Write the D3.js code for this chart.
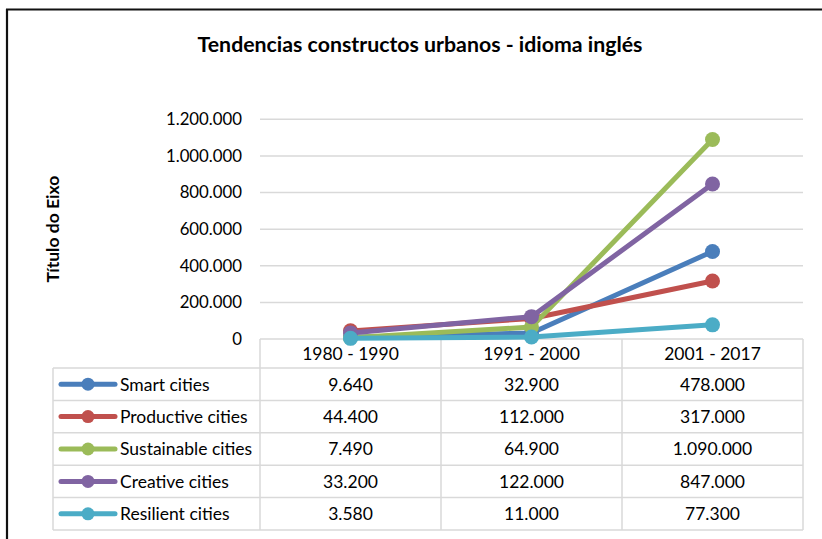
<!DOCTYPE html>
<html>
<head>
<meta charset="utf-8">
<script src="https://cdn.jsdelivr.net/npm/d3@7"></script>
<style>
  body { margin: 0; background: #fff; }
  svg text { font-family: Lato, "Open Sans", sans-serif; fill: #000; }
</style>
</head>
<body>
<svg id="chart" width="822" height="539"></svg>
<script>
const periods = ['1980 - 1990', '1991 - 2000', '2001 - 2017'];
const seriesNames = ['Smart cities', 'Productive cities', 'Sustainable cities', 'Creative cities', 'Resilient cities'];
const seriesColors = ['#4A7EBB', '#C0504D', '#9BBB59', '#8064A2', '#4BACC6'];
const smartValues = [9640, 32900, 478000];
const productiveValues = [44400, 112000, 317000];
const sustainableValues = [7490, 64900, 1090000];
const creativeValues = [33200, 122000, 847000];
const resilientValues = [3580, 11000, 77300];
const yTicks = [0, 200000, 400000, 600000, 800000, 1000000, 1200000];

const seriesValues = [smartValues, productiveValues, sustainableValues, creativeValues, resilientValues];
const series = seriesNames.map((name, i) => ({ name, color: seriesColors[i], values: seriesValues[i] }));

// numbers with dots as thousands separator
const fmt = d3.formatLocale({ decimal: ',', thousands: '.', grouping: [3], currency: ['', ''] }).format(',d');

const svg = d3.select('#chart');
const plotLeft = 260, plotRight = 803, plotTop = 119.3, plotBottom = 339;
const tableLeft = 53, headerH = 29, rowH = 32.4;
const gridColor = '#D9D9D9';
const fs = '17.5px';

// chart frame
svg.append('line').attr('x1', 6).attr('x2', 822).attr('y1', 9.5).attr('y2', 9.5)
  .attr('stroke', '#111').attr('stroke-width', 2.2);
svg.append('line').attr('x1', 7).attr('x2', 7).attr('y1', 9).attr('y2', 539)
  .attr('stroke', '#111').attr('stroke-width', 2.2);

svg.append('text')
  .attr('x', 420).attr('y', 52)
  .attr('text-anchor', 'middle')
  .style('font-size', '21.3px').style('font-weight', 'bold')
  .text('Tendencias constructos urbanos - idioma inglés');

const x = d3.scaleBand().domain(periods).range([plotLeft, plotRight]);
const y = d3.scaleLinear().domain([0, 1200000]).range([plotBottom, plotTop]);

// gridlines
svg.append('g').selectAll('line').data(yTicks.slice(1)).join('line')
  .attr('x1', plotLeft).attr('x2', plotRight)
  .attr('y1', d => y(d)).attr('y2', d => y(d))
  .attr('stroke', gridColor).attr('stroke-width', 1.5);

// y axis
const yAxis = svg.append('g')
  .attr('transform', `translate(${plotLeft - 18},0)`)
  .call(d3.axisLeft(y).tickValues(yTicks).tickFormat(fmt).tickSize(0).tickPadding(0));
yAxis.select('.domain').remove();
yAxis.selectAll('text').style('font-size', '16.8px').style('font-family', 'Lato, sans-serif');

svg.append('text')
  .attr('transform', `translate(59,${(plotTop + plotBottom) / 2}) rotate(-90)`)
  .attr('text-anchor', 'middle')
  .style('font-size', '17.5px').style('font-weight', 'bold')
  .text('Título do Eixo');

// data table
const tableBottom = plotBottom + headerH + rowH * series.length;
const tbl = svg.append('g').attr('stroke', gridColor).attr('stroke-width', 1.5);
tbl.append('line').attr('x1', plotLeft).attr('x2', plotRight).attr('y1', plotBottom).attr('y2', plotBottom);
series.forEach((s, i) => {
  const yy = plotBottom + headerH + rowH * i;
  tbl.append('line').attr('x1', tableLeft).attr('x2', plotRight).attr('y1', yy).attr('y2', yy);
});
tbl.append('line').attr('x1', tableLeft).attr('x2', plotRight).attr('y1', tableBottom).attr('y2', tableBottom);
tbl.append('line').attr('x1', tableLeft).attr('x2', tableLeft).attr('y1', plotBottom + headerH).attr('y2', tableBottom);
periods.forEach(p => {
  tbl.append('line').attr('x1', x(p)).attr('x2', x(p)).attr('y1', plotBottom).attr('y2', tableBottom);
});
tbl.append('line').attr('x1', plotRight).attr('x2', plotRight).attr('y1', plotBottom).attr('y2', tableBottom);

svg.append('g').selectAll('text').data(periods).join('text')
  .attr('x', d => x(d) + x.bandwidth() / 2)
  .attr('y', plotBottom + headerH / 2 + 6.5)
  .attr('text-anchor', 'middle')
  .style('font-size', fs)
  .text(d => d);

const rows = svg.append('g').selectAll('g').data(series).join('g')
  .attr('transform', (d, i) => `translate(0,${plotBottom + headerH + rowH * i})`);

rows.append('line')
  .attr('x1', 61).attr('x2', 115).attr('y1', rowH / 2).attr('y2', rowH / 2)
  .attr('stroke', d => d.color).attr('stroke-width', 5).attr('stroke-linecap', 'round');
rows.append('circle')
  .attr('cx', 88).attr('cy', rowH / 2).attr('r', 6.5)
  .attr('fill', d => d.color);
rows.append('text')
  .attr('x', 120).attr('y', rowH / 2 + 6.5)
  .style('font-size', fs)
  .text(d => d.name);
rows.selectAll('text.val').data(d => d.values).join('text')
  .attr('class', 'val')
  .attr('x', (d, i) => x(periods[i]) + x.bandwidth() / 2)
  .attr('y', rowH / 2 + 6.5)
  .attr('text-anchor', 'middle')
  .style('font-size', fs)
  .text(d => fmt(d));

// lines and markers
const line = d3.line()
  .x((d, i) => x(periods[i]) + x.bandwidth() / 2)
  .y(d => y(d));

const lines = svg.append('g').selectAll('g').data(series).join('g');
lines.append('path')
  .attr('d', d => line(d.values))
  .attr('fill', 'none')
  .attr('stroke', d => d.color)
  .attr('stroke-width', 5)
  .attr('stroke-linejoin', 'round');
lines.selectAll('circle').data(d => d.values.map(v => ({ v, color: d.color }))).join('circle')
  .attr('cx', (d, i) => x(periods[i]) + x.bandwidth() / 2)
  .attr('cy', d => y(d.v))
  .attr('r', 7.5)
  .attr('fill', d => d.color);
</script>
</body>
</html>
